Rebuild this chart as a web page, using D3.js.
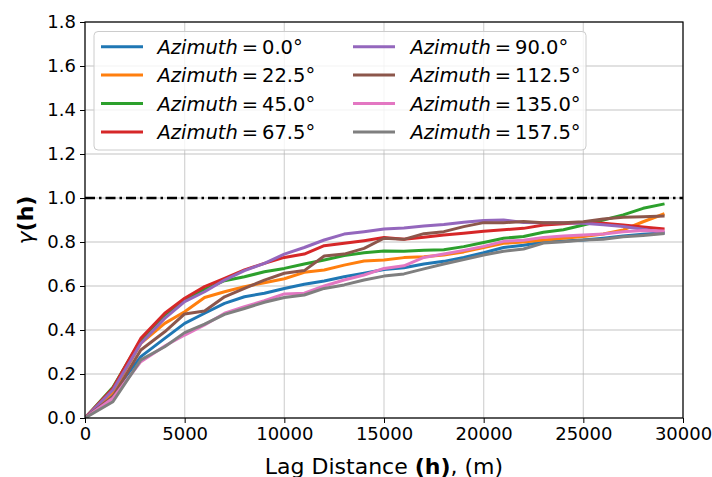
<!DOCTYPE html>
<html><head><meta charset="utf-8">
<script src="https://cdn.jsdelivr.net/npm/d3@7"></script>
<style>
html,body{margin:0;padding:0;background:#fff;}
svg{display:block;font-family:"DejaVu Sans",sans-serif;}
</style></head>
<body>
<svg id="chart" width="712" height="477"></svg>
<script>
const lags = [0,1400,2800,4000,5000,6000,7000,8000,9000,10000,11000,12000,13000,14000,15000,16000,17000,18000,19000,20000,21000,22000,23000,24000,25000,26000,27000,28000,29000];
const azimuths = ["0.0","22.5","45.0","67.5","90.0","112.5","135.0","157.5"];
const az0   = [0,.11,.279,.362,.430,.476,.521,.551,.567,.589,.608,.623,.642,.658,.675,.683,.700,.712,.730,.751,.775,.785,.800,.805,.809,.817,.827,.835,.842];
const az22  = [0,.118,.339,.430,.483,.548,.574,.597,.615,.633,.662,.673,.695,.714,.718,.729,.733,.741,.755,.775,.794,.800,.809,.817,.825,.836,.855,.892,.926];
const az45  = [0,.14,.355,.468,.534,.585,.624,.642,.665,.680,.700,.718,.738,.751,.759,.758,.762,.765,.779,.798,.817,.825,.844,.856,.877,.900,.923,.953,.972];
const az67  = [0,.135,.362,.476,.544,.597,.635,.673,.703,.730,.745,.783,.794,.806,.820,.812,.822,.832,.840,.849,.856,.862,.877,.883,.889,.885,.877,.868,.860];
const az90  = [0,.127,.339,.453,.529,.574,.627,.670,.703,.745,.775,.809,.836,.847,.859,.864,.873,.880,.890,.898,.900,.889,.888,.887,.885,.878,.870,.858,.843];
const az112 = [0,.097,.309,.392,.473,.486,.551,.589,.627,.658,.670,.736,.745,.771,.817,.812,.838,.847,.870,.888,.888,.893,.888,.888,.892,.905,.912,.915,.918];
const az135 = [0,.09,.256,.327,.377,.423,.476,.506,.533,.564,.567,.600,.627,.650,.680,.692,.730,.745,.762,.780,.803,.808,.821,.827,.832,.836,.847,.852,.850];
const az157 = [0,.074,.264,.324,.388,.427,.471,.498,.526,.548,.559,.589,.605,.627,.645,.655,.678,.700,.720,.741,.758,.768,.795,.801,.809,.812,.824,.830,.838];
const seriesValues = [az0,az22,az45,az67,az90,az112,az135,az157];
const xTicks = [0,5000,10000,15000,20000,25000,30000];
const yTicks = [0,0.2,0.4,0.6,0.8,1.0,1.2,1.4,1.6,1.8];
const sill = 1.0;
const colors = ["#1f77b4","#ff7f0e","#2ca02c","#d62728","#9467bd","#8c564b","#e377c2","#7f7f7f"];

const svg = d3.select("#chart");
const L = 85, R = 683, T = 22, B = 418;
const x = d3.scaleLinear().domain([0,30000]).range([L,R]);
const y = d3.scaleLinear().domain([0,1.8]).range([B,T]);

// grid
const g = svg.append("g");
g.selectAll(".gx").data(xTicks).join("line")
  .attr("x1",d=>x(d)).attr("x2",d=>x(d)).attr("y1",T).attr("y2",B)
  .attr("stroke","#b0b0b0").attr("stroke-opacity",0.5).attr("stroke-width",1.3);
g.selectAll(".gy").data(yTicks).join("line")
  .attr("y1",d=>y(d)).attr("y2",d=>y(d)).attr("x1",L).attr("x2",R)
  .attr("stroke","#b0b0b0").attr("stroke-opacity",0.5).attr("stroke-width",1.3);

// clip
svg.append("clipPath").attr("id","clip").append("rect")
  .attr("x",L).attr("y",T).attr("width",R-L).attr("height",B-T);

const line = d3.line().x((d,i)=>x(lags[i])).y(d=>y(d));
const lg = svg.append("g").attr("clip-path","url(#clip)");
seriesValues.forEach((s,k)=>{
  lg.append("path").datum(s).attr("d",line).attr("fill","none")
    .attr("stroke",colors[k]).attr("stroke-width",3).attr("stroke-linejoin","round").attr("stroke-linecap","square");
});
// sill line
lg.append("line").attr("x1",L).attr("x2",R).attr("y1",y(sill)).attr("y2",y(sill))
  .attr("stroke","#000").attr("stroke-width",2.5).attr("stroke-dasharray","10,4,2.5,4");

// axes
const xAxis = d3.axisBottom(x).tickValues(xTicks).tickSize(5).tickPadding(4).tickFormat(d3.format("d"));
const yAxis = d3.axisLeft(y).tickValues(yTicks).tickSize(5).tickPadding(4).tickFormat(d3.format(".1f"));
const gx = svg.append("g").attr("transform",`translate(0,${B})`).call(xAxis);
const gy = svg.append("g").attr("transform",`translate(${L},0)`).call(yAxis);
[gx,gy].forEach(a=>{
  a.select(".domain").remove();
  a.selectAll("text").attr("font-size",18).attr("fill","#000").attr("font-family","DejaVu Sans");
  a.selectAll("line").attr("stroke","#000").attr("stroke-width",1);
});
// spines
svg.append("rect").attr("x",L).attr("y",T).attr("width",R-L).attr("height",B-T)
  .attr("fill","none").attr("stroke","#000").attr("stroke-width",1.2);

// labels
const xl = svg.append("text").attr("x",(L+R)/2).attr("y",474).attr("text-anchor","middle")
  .attr("font-size",22).attr("fill","#000");
xl.append("tspan").text("Lag Distance ");
xl.append("tspan").attr("font-weight","bold").text("(h)");
xl.append("tspan").text(", (m)");

const yl = svg.append("text").attr("transform",`translate(33,${(T+B)/2}) rotate(-90)`)
  .attr("text-anchor","middle").attr("font-size",22).attr("fill","#000");
yl.append("tspan").attr("font-style","italic").text("γ");
yl.append("tspan").attr("font-weight","bold").text("(h)");

// legend
const leg = svg.append("g");
leg.append("rect").attr("x",94).attr("y",31.5).attr("width",492).attr("height",118.5).attr("rx",4)
  .attr("fill","#fff").attr("fill-opacity",0.8).attr("stroke","#cccccc").attr("stroke-width",1);
const rowY = [46.7,75,103.5,132];
azimuths.forEach((a,k)=>{
  const col = Math.floor(k/4), row = k%4;
  const hx = col===0 ? 101 : 353;
  const tx = col===0 ? 157.5 : 410.5;
  leg.append("line").attr("x1",hx).attr("x2",hx+42).attr("y1",rowY[row]).attr("y2",rowY[row])
    .attr("stroke",colors[k]).attr("stroke-width",3);
  const t = leg.append("text").attr("x",tx).attr("y",rowY[row]+7).attr("font-size",19.5).attr("fill","#000");
  t.append("tspan").attr("font-style","italic").text("Azimuth");
  t.append("tspan").text("\u2009=\u2009" + a + "°");
});
</script>
</body></html>
